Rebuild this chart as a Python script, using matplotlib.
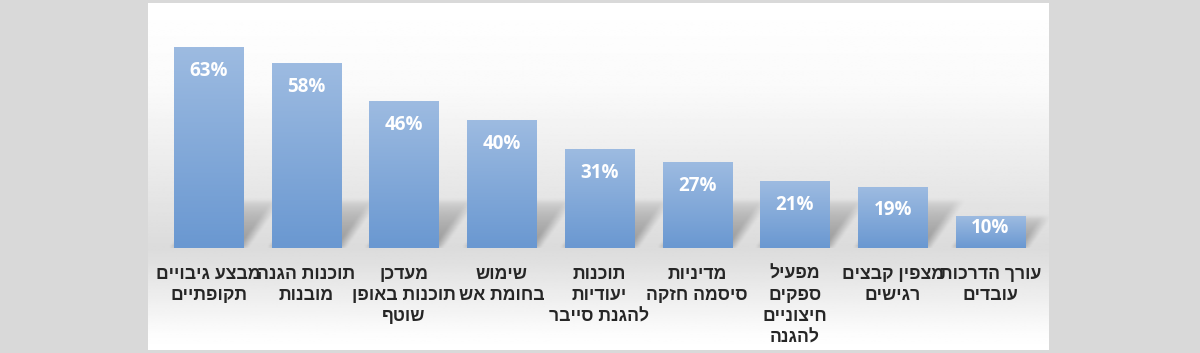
import numpy as np
import matplotlib
matplotlib.use("Agg")
import matplotlib.pyplot as plt
from matplotlib.colors import LinearSegmentedColormap

# data (Hebrew in logical order, one entry per wrapped line)
categories = [
    ["מבצע גיבויים", "תקופתיים"],
    ["תוכנות הגנה", "מובנות"],
    ["מעדכן", "תוכנות באופן", "שוטף"],
    ["שימוש", "בחומת אש"],
    ["תוכנות", "יעודיות", "להגנת סייבר"],
    ["מדיניות", "סיסמה חזקה"],
    ["מפעיל", "ספקים", "חיצוניים", "להגנה"],
    ["מצפין קבצים", "רגישים"],
    ["עורך הדרכות", "עובדים"],
]
values = [63, 58, 46, 40, 31, 27, 21, 19, 10]


def visual(line):
    # matplotlib has no bidi, so flip the characters for right-to-left display
    return line[::-1]


def smooth(a, n, axis):
    k = np.ones(n) / n
    return np.apply_along_axis(lambda r: np.convolve(r, k, mode="same"), axis, a)


fig = plt.figure(figsize=(12, 3.53), dpi=100, facecolor="#d9d9d9")
ax = fig.add_axes([148 / 1200, 3 / 353, 901 / 1200, 347 / 353])
xlim = (-0.619, 8.599)
ylim = (-32.0, 76.8)
ax.set_xlim(*xlim)
ax.set_ylim(*ylim)
ax.axis("off")

# chart area background: white -> light gray at the baseline -> white
ys = np.linspace(ylim[1], ylim[0], 300)
shade = np.interp(ys, [ylim[0], -27, -5, 0, 25, 50, ylim[1]],
                  [1.0, 0.99, 0.88, 0.86, 0.92, 0.98, 1.0])
grad = np.repeat(shade[:, None], 2, axis=1)
ax.imshow(grad, extent=[*xlim, *ylim], aspect="auto", cmap="gray",
          vmin=0, vmax=1, zorder=0, interpolation="bilinear")

x = np.arange(len(values))
width = 0.706

# soft perspective shadows cast up and to the right of each bar
gx = np.linspace(xlim[0], xlim[1], 900)
gy = np.linspace(0, 18, 60)
X, Y = np.meshgrid(gx, gy)
mask = np.zeros_like(X)
for xi, v in zip(x, values):
    hs = min(v, 15)
    xs = X - 0.0235 * Y
    inside = (xs >= xi - width / 2) & (xs <= xi + width / 2) & (Y <= hs)
    mask = np.maximum(mask, inside * np.clip(1 - Y / hs, 0, 1) ** 0.5)
mask = smooth(smooth(mask, 11, 1), 5, 0)
rgba = np.zeros(mask.shape + (4,))
rgba[..., :3] = 0.42
rgba[..., 3] = np.clip(mask, 0, 1) * 0.6
ax.imshow(rgba, extent=[xlim[0], xlim[1], 0, 18], origin="lower",
          aspect="auto", zorder=1, interpolation="bilinear")

bars = ax.bar(x, values, width=width, color="#7aa3d6", zorder=2)
bar_cmap = LinearSegmentedColormap.from_list("bar", ["#6a98d1", "#9dbbe1"])
for b in bars:
    g = np.linspace(0, 1, 100)[:, None]
    im = ax.imshow(g, extent=[b.get_x(), b.get_x() + b.get_width(), 0, b.get_height()],
                   origin="lower", aspect="auto", cmap=bar_cmap, zorder=3)
    im.set_clip_path(b)

for xi, v in zip(x, values):
    ty = v - 7.5 if v > 20 else v * 0.63
    ax.text(xi, ty, f"{v}%", ha="center", va="center", color="white",
            fontsize=13.5, fontweight="bold", family=["Open Sans", "DejaVu Sans"],
            zorder=4)

for xi, lines in zip(x, categories):
    label = "\n".join(visual(l) for l in lines)
    ax.text(xi, -5.6, label, ha="center", va="top", multialignment="center",
            color="#262626", fontsize=12.7, fontweight="bold", linespacing=1.33,
            family=["Liberation Sans", "DejaVu Sans"], zorder=4)

fig.savefig("out.png", dpi=100, facecolor=fig.get_facecolor())
